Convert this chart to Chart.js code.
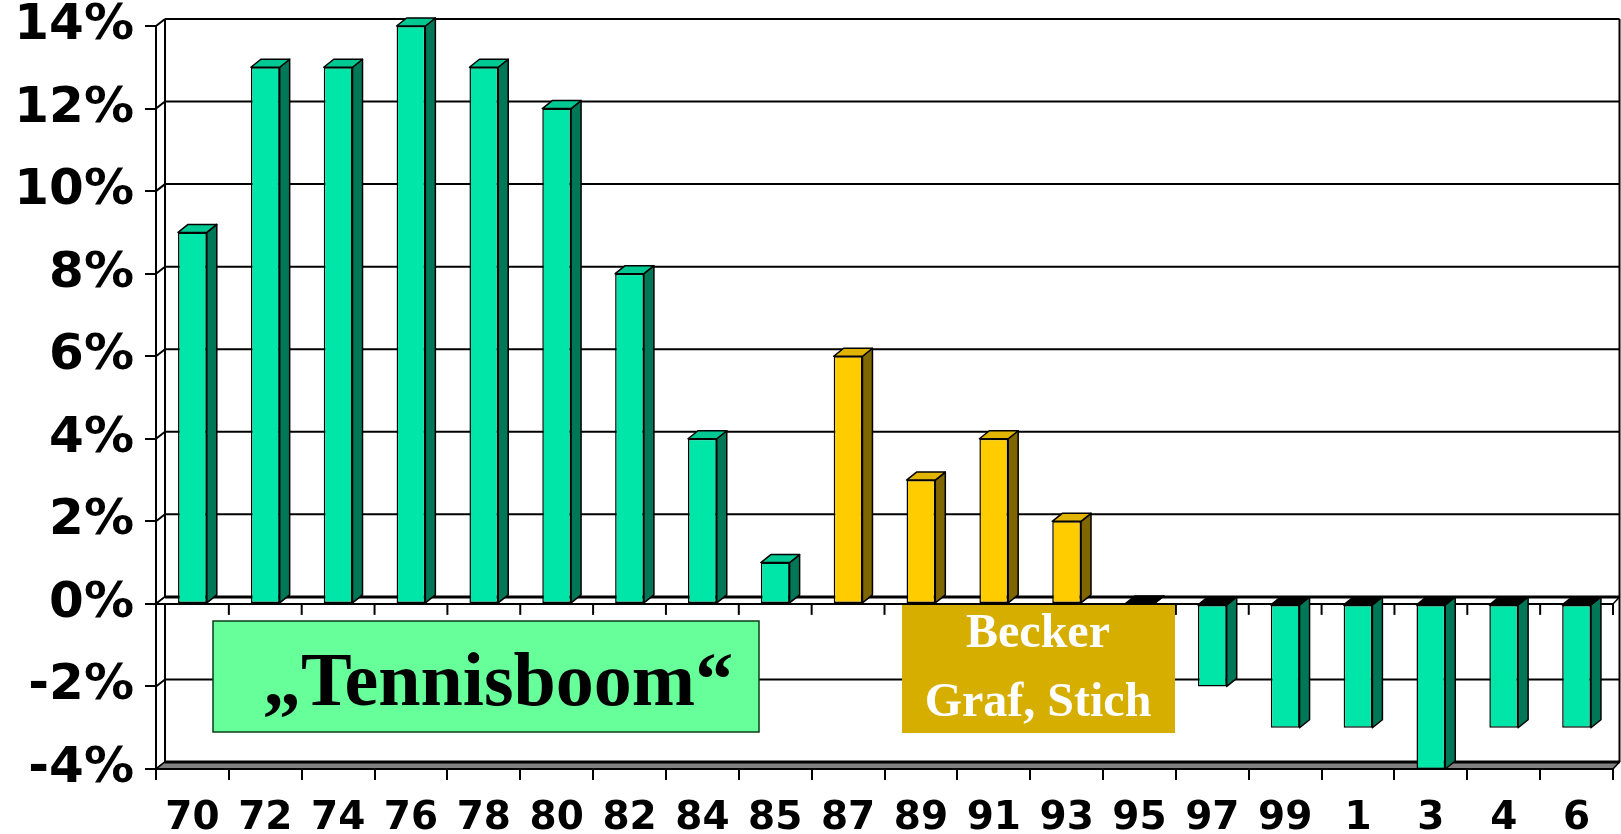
<!DOCTYPE html>
<html>
<head>
<meta charset="utf-8">
<script src="https://cdn.jsdelivr.net/npm/chart.js@4/dist/chart.umd.min.js"></script>
<style>
  html, body { margin: 0; padding: 0; background: #fff; }
  #wrap { width: 1621px; height: 834px; }
</style>
</head>
<body>
<div id="wrap"><canvas id="myChart"></canvas></div>
<script>
'use strict'

// data
const years = ['70', '72', '74', '76', '78', '80', '82', '84', '85', '87',
  '89', '91', '93', '95', '97', '99', '1', '3', '4', '6']
const growth = [9, 13, 13, 14, 13, 12, 8, 4, 1, 6,
  3, 4, 2, 0, -2, -3, -3, -4, -3, -3]
const yTicks = [-4, -2, 0, 2, 4, 6, 8, 10, 12, 14]
const beckerYears = ['87', '89', '91', '93']
const boomLabel = '\u201ETennisboom\u201C'
const beckerLabel = ['Becker', 'Graf, Stich']

// look
const DX = 9, DY = -7      // depth of the walls
const BX = 10, BY = -8     // depth of the bars
const green = { front: '#00E6A8', side: '#007858', top: '#00C893' }
const gold = { front: '#FFCC00', side: '#806600', top: '#E0B400' }
const sans = "'DejaVu Sans', Verdana, sans-serif"
const serif = "'Liberation Serif', 'Times New Roman', serif"

const palette = i => beckerYears.includes(years[i]) ? gold : green

function poly (ctx, pts, fill, lw) {
  ctx.beginPath()
  ctx.moveTo(pts[0][0], pts[0][1])
  for (let k = 1; k < pts.length; k++) ctx.lineTo(pts[k][0], pts[k][1])
  ctx.closePath()
  if (fill) { ctx.fillStyle = fill; ctx.fill() }
  ctx.lineWidth = lw || 1.5
  ctx.strokeStyle = '#000'
  ctx.stroke()
}

function line (ctx, x1, y1, x2, y2, lw) {
  ctx.beginPath()
  ctx.moveTo(x1, y1)
  ctx.lineTo(x2, y2)
  ctx.lineWidth = lw || 2
  ctx.strokeStyle = '#000'
  ctx.stroke()
}

// walls, floor, zero plane
const walls = {
  id: 'walls',
  beforeDraw (chart) {
    const ctx = chart.ctx
    const { left, right, top, bottom } = chart.chartArea
    const ys = chart.scales.y
    const backRight = Math.min(right + DX, chart.width - 1.5)
    ctx.save()
    ctx.lineJoin = 'round'
    yTicks.forEach(v => {
      const py = ys.getPixelForValue(v)
      line(ctx, left, py, left + DX, py + DY)
      if (v !== yTicks[0] && v !== 0) line(ctx, left + DX, py + DY, backRight, py + DY)
    })
    line(ctx, left + DX, top + DY, left + DX, bottom + DY)
    line(ctx, backRight, top + DY, backRight, bottom + DY)

    // floor at the bottom
    poly(ctx, [[left, bottom], [left + DX, bottom + DY], [backRight, bottom + DY], [right, bottom]], '#808080', 1.5)
    line(ctx, left + DX, bottom + DY, backRight, bottom + DY, 3)
    ctx.restore()
  },
  beforeDatasetsDraw (chart) {
    const ctx = chart.ctx
    const { left, right } = chart.chartArea
    const ys = chart.scales.y
    const xs = chart.scales.x
    const y0 = ys.getPixelForValue(0)
    const backRight = Math.min(right + DX, chart.width - 1.5)
    const step = (right - left) / years.length
    ctx.save()
    ctx.lineJoin = 'round'

    // zero plane
    poly(ctx, [[left, y0], [left + DX, y0 + DY], [backRight, y0 + DY], [right, y0]], '#fff', 1.5)
    line(ctx, left + DX, y0 + DY, backRight, y0 + DY, 3)
    line(ctx, left - 11, y0, right, y0, 2)
    for (let i = 0; i <= years.length; i++) {
      const bx = xs.getPixelForTick(Math.min(i, years.length - 1)) + (i === years.length ? step / 2 : -step / 2)
      line(ctx, bx, y0, bx, y0 + 11, 2)
    }

    // side and top faces of the bars
    const meta = chart.getDatasetMeta(0)
    meta.data.forEach((bar, i) => {
      const { x, y, base, width } = bar.getProps(['x', 'y', 'base', 'width'], true)
      const l = x - width / 2, r = x + width / 2
      const t = Math.min(y, base), b = Math.max(y, base)
      const c = palette(i)
      poly(ctx, [[r, t], [r + BX, t + BY], [r + BX, b + BY], [r, b]], c.side)
      poly(ctx, [[l, t], [l + BX, t + BY], [r + BX, t + BY], [r, t]], growth[i] > 0 ? c.top : '#000')
    })
    ctx.restore()
  },
  afterDraw (chart) {
    const ctx = chart.ctx
    ctx.save()
    // "Tennisboom" box
    ctx.fillStyle = '#66FF99'
    ctx.fillRect(213, 621, 546, 111)
    ctx.lineWidth = 1.5
    ctx.strokeStyle = '#0b3d16'
    ctx.strokeRect(213, 621, 546, 111)
    ctx.fillStyle = '#000'
    ctx.textAlign = 'center'
    ctx.textBaseline = 'alphabetic'
    ctx.font = 'bold 76px ' + serif
    ctx.fillText(boomLabel, 498, 705)

    // Becker box
    ctx.fillStyle = '#D6AE00'
    ctx.fillRect(902, 605, 273, 128)
    ctx.fillStyle = '#fff'
    ctx.font = 'bold 48px ' + serif
    ctx.fillText(beckerLabel[0], 1038, 647)
    ctx.fillText(beckerLabel[1], 1038, 716)
    ctx.restore()
  }
}

const ctx = document.getElementById('myChart')
new Chart(ctx, {
  type: 'bar',
  data: {
    labels: years,
    datasets: [{
      data: growth,
      backgroundColor: growth.map((v, i) => palette(i).front),
      borderColor: '#000',
      borderWidth: 1.5,
      borderSkipped: false,
      barPercentage: 0.395,
      categoryPercentage: 1
    }]
  },
  options: {
    responsive: true,
    maintainAspectRatio: false,
    animation: false,
    layout: { padding: { top: 26, right: 8, left: 0, bottom: 0 } },
    plugins: {
      legend: { display: false },
      tooltip: { enabled: false }
    },
    scales: {
      x: {
        afterFit: s => { s.height = 65; s.paddingLeft = 0; s.paddingRight = 0 },
        grid: { offset: true, drawOnChartArea: false, tickLength: 11, color: '#000', lineWidth: 2 },
        border: { color: '#000', width: 2 },
        ticks: {
          color: '#000',
          padding: 15,
          maxRotation: 0,
          autoSkip: false,
          font: { family: sans, size: 39, weight: 'bold' }
        }
      },
      y: {
        min: -4,
        max: 14,
        afterBuildTicks: s => { s.ticks = yTicks.map(v => ({ value: v })) },
        afterFit: s => { s.width = 156; s.paddingTop = 0; s.paddingBottom = 0 },
        grid: { drawOnChartArea: false, tickLength: 11, color: '#000', lineWidth: 2 },
        border: { color: '#000', width: 2 },
        ticks: {
          color: '#000',
          padding: 11,
          callback: v => v + '%',
          font: { family: sans, size: 50, weight: 'bold', lineHeight: 1 }
        }
      }
    }
  },
  plugins: [walls]
})
</script>
</body>
</html>
